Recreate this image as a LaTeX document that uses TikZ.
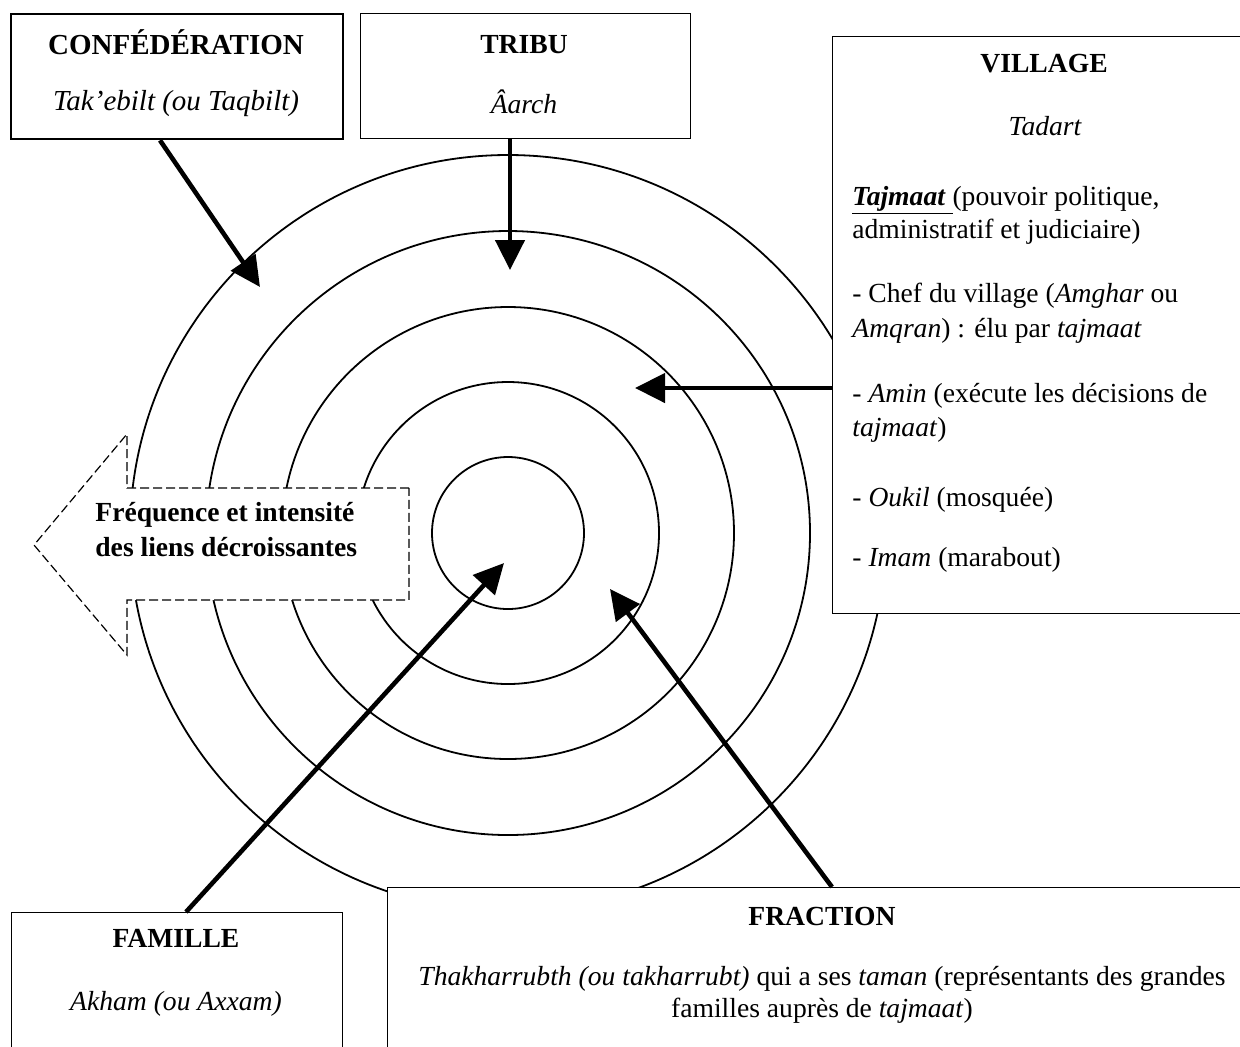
\documentclass[tikz,border=0pt]{standalone}
\usepackage{fontspec}
\setmainfont{Liberation Serif}
\usetikzlibrary{arrows.meta,positioning,calc}
\newcommand{\diagfont}{\fontsize{13.8}{16.8}\selectfont}
\newcommand{\bigdiagfont}{\fontsize{14.5}{17.4}\selectfont}
\tikzset{
  ring/.style={line width=0.9pt},
  box/.style={draw,fill=white,line width=0.65pt,anchor=north west,inner sep=0pt},
  link/.style={line width=2.3pt,-{Triangle[length=15pt,width=14.5pt]}},
  txt/.style={inner sep=0pt,anchor=base,font=\diagfont},
  titletxt/.style={txt,font=\diagfont\bfseries},
  termtxt/.style={txt,font=\diagfont\itshape},
  ltxt/.style={txt,anchor=base west},
}

\begin{document}
\begin{tikzpicture}[x=0.5pt,y=-0.5pt]
\useasboundingbox (0,0) rectangle (1240,1046);
\fill[white] (0,0) rectangle (1240,1046);
\coordinate (hub) at (508,533);
% the five rings
\foreach \r in {76,151,226,302,378}
  \draw[ring] (hub) circle[radius=\r];

% dashed arrow
\draw[dashed,dash pattern=on 4.5pt off 2pt,line width=0.6pt,fill=white]
  (409,488) -- (127,488) -- (127,434) -- (34,545) -- (127,655) -- (127,600) -- (409,600) -- cycle;
\node[ltxt,font=\diagfont\bfseries] (freq1) at (95,521) {Fréquence et intensité};
\node[ltxt,font=\diagfont\bfseries] (freq2) at (95,556) {des liens décroissantes};

% boxes
\node[box,line width=1.15pt,minimum width=166pt,minimum height=62.5pt] (conf) at (10,13) {};
\node[box,minimum width=165pt,minimum height=62.5pt] (tribu) at (360,13) {};
\node[box,minimum width=209pt,minimum height=288.5pt] (village) at (832,36) {};
\node[box,minimum width=165.5pt,minimum height=74pt] (famille) at (11,912) {};
\node[box,minimum width=431.5pt,minimum height=86.5pt] (fraction) at (387,887) {};

% texts
\node[titletxt,font=\bigdiagfont\bfseries] (confT) at (176,54) {CONFÉDÉRATION};
\node[termtxt,font=\bigdiagfont\itshape] (confS) at (176,110) {Tak’ebilt (ou Taqbilt)};
\node[titletxt] (tribuT) at (524,53) {TRIBU};
\node[termtxt] (tribuS) at (524,113) {Âarch};
\node[titletxt] (villageT) at (1044,72) {VILLAGE};
\node[termtxt] (villageS) at (1045,135) {Tadart};
\node[ltxt] (v1) at (852,205) {\underline{\textbf{\textit{Tajmaat}}\ }(pouvoir politique,};
\node[ltxt] (v2) at (852,238) {administratif et judiciaire)};
\node[ltxt] (v3) at (852,302) {- Chef du village (\textit{Amghar} ou};
\node[ltxt] (v4) at (852,337) {\textit{Amqran}) : élu par \textit{tajmaat}};
\node[ltxt] (v5) at (852,402) {- \textit{Amin} (exécute les décisions de};
\node[ltxt] (v6) at (852,436) {\textit{tajmaat})};
\node[ltxt] (v7) at (852,506) {- \textit{Oukil} (mosquée)};
\node[ltxt] (v8) at (852,566) {- \textit{Imam} (marabout)};
\node[titletxt] (familleT) at (176,947) {FAMILLE};
\node[termtxt] (familleS) at (176,1010) {Akham (ou Axxam)};
\node[titletxt] (fractionT) at (822,925) {FRACTION};
\node[txt] (f1) at (822,985) {\textit{Thakharrubth (ou takharrubt)} qui a ses \textit{taman} (représentants des grandes};
\node[txt] (f2) at (822,1017) {familles auprès de \textit{tajmaat})};

% arrows towards the rings
\coordinate (tconf) at (260,287);
\coordinate (ttribu) at (510,270);
\coordinate (tvillage) at (635,388);
\coordinate (tfamille) at (504,563);
\coordinate (tfraction) at (610,589);
\draw[link] ($(conf.south west)+(150,0)$) -- (tconf);
\draw[link] ($(tribu.south west)+(150,0)$) -- (ttribu);
\draw[link] ($(village.north west)+(0,352)$) -- (tvillage);
\draw[link] ($(famille.north west)+(175,0)$) -- (tfamille);
\draw[link] ($(fraction.north west)+(445,0)$) -- (tfraction);
\end{tikzpicture}
\end{document}
